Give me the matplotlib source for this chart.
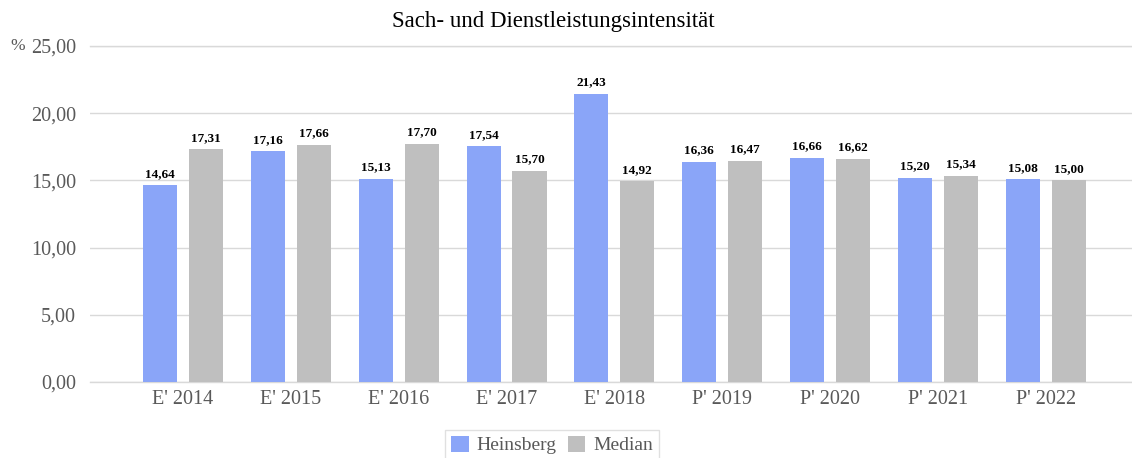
import numpy as np
import matplotlib.pyplot as plt

# Daten
jahre = ["E' 2014", "E' 2015", "E' 2016", "E' 2017", "E' 2018",
         "P' 2019", "P' 2020", "P' 2021", "P' 2022"]
heinsberg = [14.64, 17.16, 15.13, 17.54, 21.43, 16.36, 16.66, 15.20, 15.08]
median = [17.31, 17.66, 17.70, 15.70, 14.92, 16.47, 16.62, 15.34, 15.00]

plt.rcParams['font.family'] = ['Liberation Serif', 'DejaVu Serif']

def fmt(v):
    return f"{v:.2f}".replace('.', ',')

fig = plt.figure(figsize=(11.32, 4.58), dpi=100)
ax = fig.add_axes([90 / 1132, 1 - 382 / 458, 1042 / 1132, 336 / 458])

x = np.arange(len(jahre))
w = 0.316
off = 0.213
b1 = ax.bar(x - off, heinsberg, w, color='#8aa5f8', label='Heinsberg', zorder=3)
b2 = ax.bar(x + off, median, w, color='#bfbfbf', label='Median', zorder=3)

for bars, vals in ((b1, heinsberg), (b2, median)):
    for r, v in zip(bars, vals):
        ax.annotate(fmt(v), (r.get_x() + r.get_width() / 2, v),
                    xytext=(0, 4), textcoords='offset points',
                    ha='center', va='bottom', fontsize=9.5, fontweight='bold')

ax.set_ylim(0, 25)
ax.set_xlim(-0.863, 8.8)
ax.set_yticks(np.arange(0, 26, 5))
ax.set_yticklabels([fmt(t) for t in np.arange(0, 26, 5)])
ax.set_xticks(x)
ax.set_xticklabels(jahre)
ax.tick_params(axis='both', length=0, labelsize=14.5, colors='#595959')
ax.tick_params(axis='y', pad=10)
ax.tick_params(axis='x', pad=6)
ax.grid(axis='y', color='#d9d9d9', linewidth=1, zorder=0)
for yv in (0, 25):
    ax.axhline(yv, color='#d9d9d9', linewidth=1, zorder=0, clip_on=False)
for s in ax.spines.values():
    s.set_visible(False)

fig.text(10 / 1132, 1 - 46 / 458, '%', fontsize=12.5, color='#595959', va='center')
fig.text(553 / 1132, 1 - 22 / 458, 'Sach- und Dienstleistungsintensität',
         ha='center', va='center', fontsize=16.5)

leg = fig.legend(loc='center', bbox_to_anchor=(552 / 1132, 1 - 445 / 458),
                 ncol=2, fontsize=14, frameon=True, fancybox=False,
                 edgecolor='#d9d9d9', handlelength=0.9, handleheight=0.9,
                 handletextpad=0.4, columnspacing=0.6, borderpad=0.3)
for t in leg.get_texts():
    t.set_color('#595959')

fig.savefig('out.png', dpi=100)
